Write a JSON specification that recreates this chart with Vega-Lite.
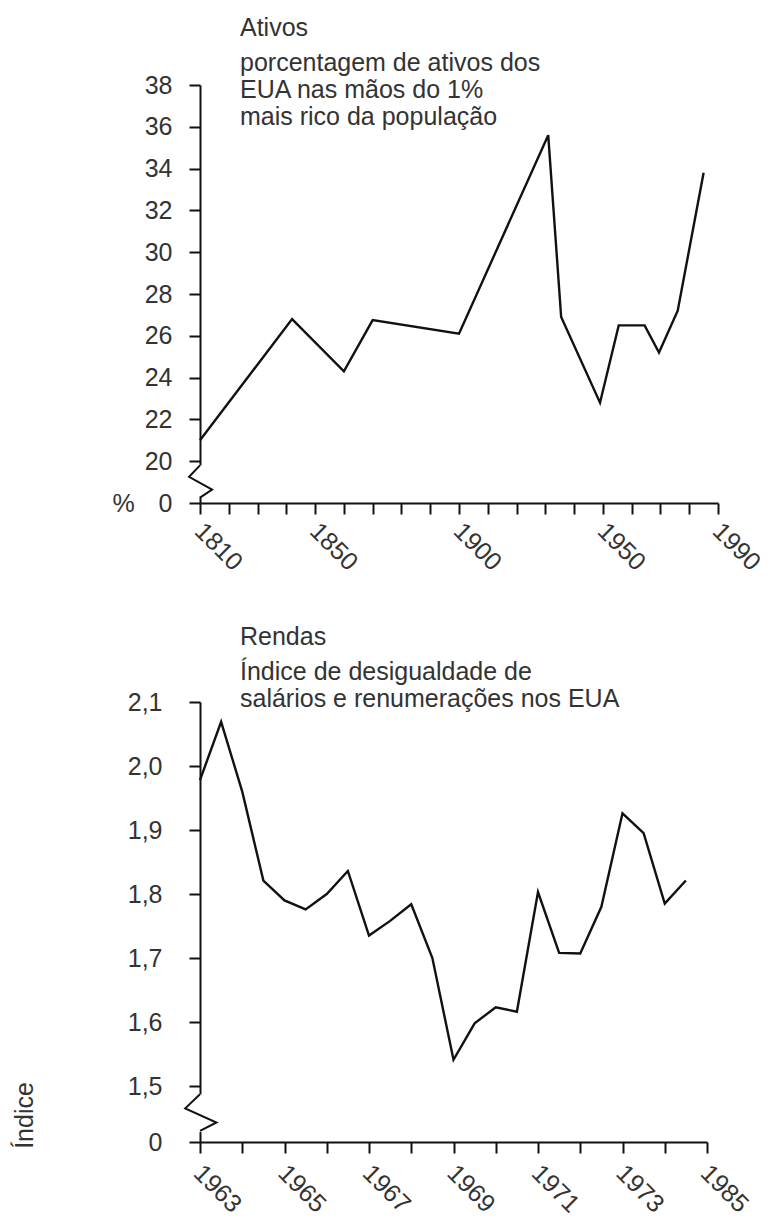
{
  "$schema": "https://vega.github.io/schema/vega-lite/v6.json",
  "background": "white",
  "padding": {"top": 16, "left": 12, "right": 5, "bottom": 2},
  "spacing": 49,
  "config": {
    "font": "Liberation Sans",
    "view": {"stroke": null},
    "axis": {
      "domainColor": "#111", "domainWidth": 2, "tickColor": "#111", "tickWidth": 2, "tickSize": 11,
      "labelColor": "#333", "labelFontSize": 25, "labelFont": "Liberation Sans", "labelOverlap": false,
      "grid": false, "titleFontWeight": "normal", "titleFontSize": 25, "titleColor": "#333", "titleFont": "Liberation Sans"
    },
    "title": {
      "anchor": "start", "frame": "group", "fontSize": 25, "fontWeight": "normal", "color": "#333", "font": "Liberation Sans",
      "subtitleFontSize": 25, "subtitleColor": "#333", "subtitleFont": "Liberation Sans",
      "subtitleLineHeight": 27, "subtitlePadding": 10, "dx": 40
    }
  },
  "datasets": {
    "ativos": [
      {"ano": 1810, "valor": 21.0},
      {"ano": 1842, "valor": 26.8},
      {"ano": 1860, "valor": 24.3},
      {"ano": 1870, "valor": 26.75},
      {"ano": 1900, "valor": 26.1},
      {"ano": 1931, "valor": 35.6},
      {"ano": 1935.5, "valor": 26.9},
      {"ano": 1949, "valor": 22.8},
      {"ano": 1955.5, "valor": 26.5},
      {"ano": 1964.5, "valor": 26.5},
      {"ano": 1969.5, "valor": 25.2},
      {"ano": 1976, "valor": 27.2},
      {"ano": 1985, "valor": 33.8}
    ],
    "quebraAtivosFundo": [{"ano": 1810, "de": 18.3, "ate": 19.8}],
    "quebraAtivos": [
      {"ordem": 1, "ano": 1810, "valor": 19.8},
      {"ordem": 2, "ano": 1806.2, "valor": 19.25},
      {"ordem": 3, "ano": 1814.2, "valor": 18.64},
      {"ordem": 4, "ano": 1810, "valor": 18.26}
    ],
    "rendas": [
      {"ano": 1963.0, "valor": 1.978},
      {"ano": 1963.5, "valor": 2.069},
      {"ano": 1964.0, "valor": 1.96},
      {"ano": 1964.5, "valor": 1.821},
      {"ano": 1965.0, "valor": 1.79},
      {"ano": 1965.5, "valor": 1.776},
      {"ano": 1966.0, "valor": 1.80},
      {"ano": 1966.5, "valor": 1.836},
      {"ano": 1967.0, "valor": 1.735},
      {"ano": 1967.5, "valor": 1.758},
      {"ano": 1968.0, "valor": 1.784},
      {"ano": 1968.5, "valor": 1.70},
      {"ano": 1969.0, "valor": 1.541},
      {"ano": 1969.5, "valor": 1.598},
      {"ano": 1970.0, "valor": 1.623},
      {"ano": 1970.5, "valor": 1.616},
      {"ano": 1971.0, "valor": 1.803},
      {"ano": 1971.5, "valor": 1.708},
      {"ano": 1972.0, "valor": 1.707},
      {"ano": 1972.5, "valor": 1.78},
      {"ano": 1973.0, "valor": 1.926},
      {"ano": 1973.5, "valor": 1.895},
      {"ano": 1974.0, "valor": 1.785},
      {"ano": 1974.5, "valor": 1.821}
    ],
    "quebraRendasFundo": [{"ano": 1963, "de": 1.428, "ate": 1.487}],
    "quebraRendas": [
      {"ordem": 1, "ano": 1963, "valor": 1.487},
      {"ordem": 2, "ano": 1962.65, "valor": 1.465},
      {"ordem": 3, "ano": 1963.39, "valor": 1.443},
      {"ordem": 4, "ano": 1963, "valor": 1.43}
    ]
  },
  "vconcat": [
    {
      "width": 518,
      "height": 418,
      "title": {
        "text": "Ativos",
        "subtitle": ["porcentagem de ativos dos", "EUA nas mãos do 1%", "mais rico da população"],
        "offset": -57
      },
      "layer": [
        {
          "data": {"name": "ativos"},
          "mark": {"type": "line", "color": "#111", "strokeWidth": 2.4},
          "encoding": {
            "x": {
              "field": "ano", "type": "quantitative",
              "scale": {"domain": [1810, 1990], "nice": false, "zero": false},
              "axis": {
                "title": null, "tickCount": 40,
                "values": [1810, 1820, 1830, 1840, 1850, 1860, 1870, 1880, 1890, 1900, 1910, 1920, 1930, 1940, 1950, 1960, 1970, 1980, 1990],
                "labelExpr": "indexof([1810, 1850, 1900, 1950, 1990], datum.value) >= 0 ? datum.value : ''",
                "labelAngle": 45, "labelAlign": "left", "labelBaseline": "top", "labelPadding": 4, "labelOffset": 7
              }
            },
            "y": {
              "field": "valor", "type": "quantitative",
              "scale": {"domain": [18, 38], "nice": false, "zero": false},
              "axis": {
                "tickCount": 40,
                "values": [18, 20, 22, 24, 26, 28, 30, 32, 34, 36, 38],
                "labelExpr": "datum.value == 18 ? '0' : datum.value",
                "labelPadding": 17,
                "title": "%", "titleAngle": 0, "titleX": -77, "titleY": 418,
                "titleAlign": "center", "titleBaseline": "middle"
              }
            }
          }
        },
        {
          "data": {"name": "quebraAtivosFundo"},
          "mark": {"type": "rule", "color": "white", "strokeWidth": 6},
          "encoding": {
            "x": {"field": "ano", "type": "quantitative"},
            "y": {"field": "de", "type": "quantitative"},
            "y2": {"field": "ate"}
          }
        },
        {
          "data": {"name": "quebraAtivos"},
          "mark": {"type": "line", "color": "#111", "strokeWidth": 2, "clip": false},
          "encoding": {
            "x": {"field": "ano", "type": "quantitative"},
            "y": {"field": "valor", "type": "quantitative"},
            "order": {"field": "ordem"}
          }
        }
      ]
    },
    {
      "width": 507,
      "height": 440,
      "title": {
        "text": "Rendas",
        "subtitle": ["Índice de desigualdade de", "salários e renumerações nos EUA"],
        "offset": -22
      },
      "layer": [
        {
          "data": {"name": "rendas"},
          "mark": {"type": "line", "color": "#111", "strokeWidth": 2.4},
          "encoding": {
            "x": {
              "field": "ano", "type": "quantitative",
              "scale": {"domain": [1963, 1975], "nice": false, "zero": false},
              "axis": {
                "title": null, "tickCount": 40,
                "values": [1963, 1964, 1965, 1966, 1967, 1968, 1969, 1970, 1971, 1972, 1973, 1974, 1975],
                "labelExpr": "datum.value == 1975 ? '1985' : (datum.value % 2 == 1 ? datum.value : '')",
                "labelAngle": 45, "labelAlign": "left", "labelBaseline": "top", "labelPadding": 7, "labelOffset": 6
              }
            },
            "y": {
              "field": "valor", "type": "quantitative",
              "scale": {"domain": [1.4125, 2.1], "nice": false, "zero": false},
              "axis": {
                "tickCount": 40,
                "values": [1.4125, 1.5, 1.6, 1.7, 1.8, 1.9, 2.0, 2.1],
                "labelExpr": "datum.value < 1.45 ? '0' : replace(format(datum.value, '.1f'), '.', ',')",
                "labelPadding": 27,
                "title": "Índice", "titleAngle": -90, "titleX": -176, "titleY": 413,
                "titleAlign": "center", "titleBaseline": "middle"
              }
            }
          }
        },
        {
          "data": {"name": "quebraRendasFundo"},
          "mark": {"type": "rule", "color": "white", "strokeWidth": 6},
          "encoding": {
            "x": {"field": "ano", "type": "quantitative"},
            "y": {"field": "de", "type": "quantitative"},
            "y2": {"field": "ate"}
          }
        },
        {
          "data": {"name": "quebraRendas"},
          "mark": {"type": "line", "color": "#111", "strokeWidth": 2, "clip": false},
          "encoding": {
            "x": {"field": "ano", "type": "quantitative"},
            "y": {"field": "valor", "type": "quantitative"},
            "order": {"field": "ordem"}
          }
        }
      ]
    }
  ]
}
